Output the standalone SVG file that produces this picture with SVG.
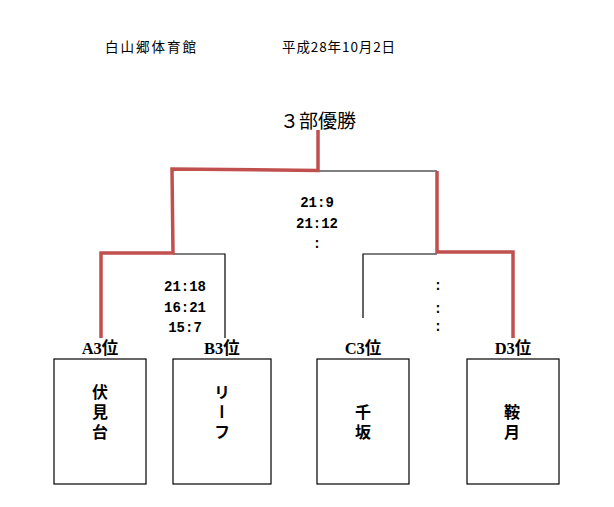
<svg xmlns="http://www.w3.org/2000/svg" width="614" height="507" viewBox="0 0 614 507">
<style>
.hdr{font-family:"Noto Sans CJK JP",sans-serif;font-size:13.5px;fill:#000}
.ttl{font-family:"Noto Sans CJK JP",sans-serif;font-size:19px;fill:#000}
.sc{font-family:"Liberation Mono","Noto Sans CJK JP",monospace;font-size:14px;font-weight:bold;fill:#000;text-anchor:middle}
.lbl{font-family:"Liberation Serif","Noto Sans CJK JP",serif;font-size:16.5px;font-weight:bold;fill:#000;text-anchor:middle}
.box{fill:#fff;stroke:#000;stroke-width:1.2}
.nm{font-family:"Noto Sans CJK JP",sans-serif;font-size:16px;font-weight:bold;fill:#000;text-anchor:middle;writing-mode:vertical-rl}
.blk{fill:none;stroke:#000;stroke-width:1.2}
.red{fill:none;stroke:#C0504D;stroke-width:3.5;stroke-linejoin:miter}
</style>
<rect width="614" height="507" fill="#fff"/>
<g id="header">
<text class="hdr" x="105" y="52" letter-spacing="2">白山郷体育館</text>
<text class="hdr" x="282" y="52" letter-spacing="0.9">平成28年10月2日</text>
<text class="ttl" x="280" y="128">３部優勝</text>
</g>
<g id="connectors">
<polyline class="blk" points="173,254 225,254 225,338"/>
<polyline class="blk" points="363,318 363,254 437,254"/>
<line class="blk" x1="318" y1="171" x2="437" y2="171"/>
<polyline class="red" points="318,130 318,170.5 172,169 173,253 101,253 101,338"/>
<polyline class="red" points="437,171 437,252 513,252 513,338"/>
</g>
<g id="scores">
<text class="sc" x="317" y="207">21:9</text>
<text class="sc" x="317" y="228">21:12</text>
<text class="sc" x="317" y="248">:</text>
<text class="sc" x="185" y="291">21:18</text>
<text class="sc" x="185" y="312">16:21</text>
<text class="sc" x="185" y="332">15:7</text>
<text class="sc" x="438" y="290">:</text>
<text class="sc" x="438" y="313">:</text>
<text class="sc" x="438" y="331">:</text>
</g>
<g id="nodeA">
<text class="lbl" x="100" y="354">A3位</text>
<rect class="box" x="54" y="359" width="92" height="125"/>
<text class="nm" x="100" y="392 412 432">伏見台</text>
</g>
<g id="nodeB">
<text class="lbl" x="222" y="354">B3位</text>
<rect class="box" x="173" y="359" width="98" height="125"/>
<text class="nm" x="222" y="392 412 432">リーフ</text>
</g>
<g id="nodeC">
<text class="lbl" x="363" y="354">C3位</text>
<rect class="box" x="317" y="359" width="92" height="125"/>
<text class="nm" x="363" y="412 432">千坂</text>
</g>
<g id="nodeD">
<text class="lbl" x="513" y="354">D3位</text>
<rect class="box" x="467" y="359" width="92" height="125"/>
<text class="nm" x="512" y="412 432">鞍月</text>
</g>
</svg>
